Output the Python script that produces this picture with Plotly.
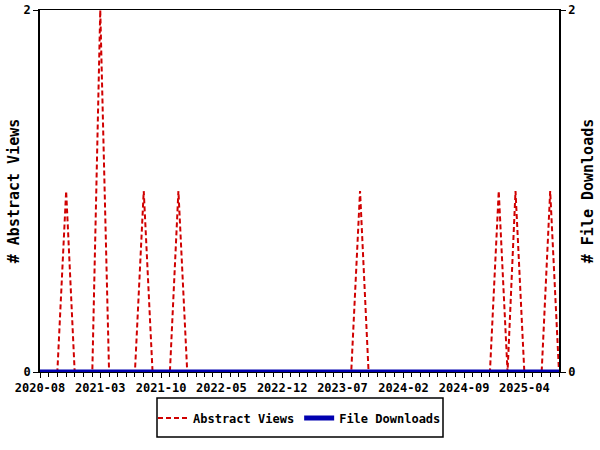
import plotly.graph_objects as go
import pandas as pd

months = pd.date_range("2020-08-01", "2025-08-01", freq="MS")
abstract_views = [0]*61
for m, v in [(3, 1), (7, 2), (12, 1), (16, 1), (37, 1), (53, 1), (55, 1), (59, 1)]:
    abstract_views[m] = v
file_downloads = [0]*61

font_family = "DejaVu Sans Mono"
tickfont = dict(size=12, family=font_family, weight="bold", color="black")
titlefont = dict(size=15, family=font_family, weight="bold", color="black")

fig = go.Figure()
fig.add_trace(go.Scatter(x=months, y=abstract_views, name="Abstract Views", mode="lines",
                         line=dict(color="#d00000", width=2, dash="5px,3px")))
fig.add_trace(go.Scatter(x=months, y=file_downloads, name="File Downloads", mode="lines",
                         line=dict(color="#0000b0", width=5), yaxis="y2"))

fig.update_layout(
    width=600, height=450,
    margin=dict(l=40, r=41, t=10, b=78, autoexpand=False),
    paper_bgcolor="white", plot_bgcolor="white",
    font=dict(family=font_family, size=12, color="black"),
    showlegend=True,
    legend=dict(orientation="h", x=0.5, xanchor="center", y=-0.127, yanchor="middle",
                borderwidth=0, font=tickfont, itemwidth=30, bgcolor="rgba(0,0,0,0)"),
    xaxis=dict(range=[months[0], months[-1]], tick0="2020-08-01", dtick="M7", tickformat="%Y-%m",
               ticks="outside", ticklen=5, tickcolor="black", showgrid=False, zeroline=False,
               showline=True, linecolor="black", linewidth=1, mirror=True, automargin=False,
               tickfont=tickfont,
               minor=dict(dtick="M1", ticks="outside", ticklen=4, tickcolor="black")),
    yaxis=dict(range=[0, 2], tickvals=[0, 2], ticks="outside", ticklen=5, tickcolor="black",
               showgrid=False, zeroline=False, automargin=False,
               showline=True, linecolor="black", linewidth=1.5,
               tickfont=tickfont,
               title=dict(text="# Abstract Views", font=titlefont, standoff=0)),
    yaxis2=dict(range=[0, 2], tickvals=[0, 2], ticks="outside", ticklen=5, tickcolor="black",
                showgrid=False, zeroline=False, automargin=False,
                overlaying="y", side="right", showline=True, linecolor="black", linewidth=1.5,
                tickfont=tickfont,
                title=dict(text="# File Downloads", font=titlefont, standoff=8)),
    shapes=[dict(type="rect", xref="paper", yref="paper",
                 x0=(157-40)/519, x1=(443-40)/519, y0=(372-398)/362, y1=(372-437)/362,
                 line=dict(color="black", width=1.5), fillcolor="rgba(0,0,0,0)")],
)

# remove the browser's default 8px body margin so the figure fills the 600x450 window
fig.write_html("out.html", config={"displayModeBar": False},
               post_script="document.body.style.margin='0px';")
